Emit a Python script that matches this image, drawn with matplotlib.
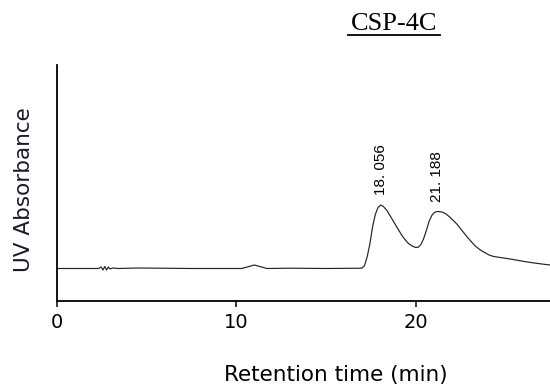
import matplotlib.pyplot as plt
from matplotlib.lines import Line2D

plt.rcParams['font.family'] = ['DejaVu Sans']

# chromatogram trace (retention time in min, detector response)
time = [0, 2.3, 2.45, 2.55, 2.65, 2.75, 2.85, 2.95, 3.1, 3.4, 4.5, 7.5,
        10.3, 10.7, 11.0, 11.3, 11.7, 13.0, 15.0,
        17.0, 17.15, 17.3, 17.45, 17.6, 17.75, 17.9, 18.056, 18.2, 18.4,
        18.6, 18.8, 19.0, 19.2, 19.4, 19.6, 19.8, 20.0, 20.15, 20.3, 20.45,
        20.6, 20.75, 20.9, 21.05, 21.188, 21.35, 21.5, 21.7, 21.9, 22.1,
        22.3, 22.5, 22.7, 22.9, 23.1, 23.3, 23.5, 23.7, 23.9, 24.1, 24.3,
        24.6, 25.0, 25.5, 26.0, 26.5, 27.0, 27.5]
signal = [0, 0, 1.5, -1.5, 2, -1.5, 1.5, -0.5, 0.5, 0, 0.5, 0,
          0, 2, 3.5, 2, 0, 0.3, 0,
          0.3, 3, 12, 25, 42, 54, 61, 63.5, 62, 58,
          52, 46, 40, 34, 29, 25, 22.5, 21, 21.3, 24, 30,
          38, 47, 53, 56, 57, 56.8, 56.3, 54.5, 51.5, 48,
          44.5, 40, 35.5, 31, 27, 23, 20, 17.5, 15.5, 13.5, 12.3,
          11.3, 10.3, 8.8, 7.2, 5.8, 4.6, 3.5]

peak_times = [18.056, 21.188]
peak_heights = [63.5, 57]
peak_labels = ["18. 056", "21. 188"]

fig = plt.figure(figsize=(5.5, 3.89), dpi=100)
ax = fig.add_axes([57.3 / 550, 1 - 301 / 389, (550 - 57.3) / 550, 236 / 389])

ax.plot(time, signal, color='#222222', lw=0.85)

for t, h, lab in zip(peak_times, peak_heights, peak_labels):
    ax.text(t, h + 10, lab, rotation=90, ha='center', va='bottom',
            fontsize=11, family='Liberation Sans')

ax.set_xlim(0, 27.5)
ax.set_ylim(-32.5, 203.5)
ax.set_xticks([0, 10, 20])
ax.set_yticks([])
ax.tick_params(axis='x', direction='out', length=4, width=1.1, labelsize=14, pad=5)
ax.spines['top'].set_visible(False)
ax.spines['right'].set_visible(False)
ax.spines['left'].set_linewidth(1.3)
ax.spines['bottom'].set_linewidth(1.3)

fig.text(336 / 550, 1 - 375 / 389, "Retention time (min)", ha='center',
         va='center', fontsize=15.5)
fig.text(24 / 550, 1 - 190 / 389, "UV Absorbance", rotation=90, ha='center',
         va='center', fontsize=15.5, color='#1a1a2a')

# underlined sample name
fig.text(394 / 550, 1 - 24 / 389, "CSP-4C", ha='center', va='center',
         fontsize=19, family='Liberation Serif')
fig.add_artist(Line2D([348 / 550, 440 / 550], [1 - 35 / 389, 1 - 35 / 389],
                      color='black', lw=1.3, transform=fig.transFigure))

fig.savefig('out.png', dpi=100)
